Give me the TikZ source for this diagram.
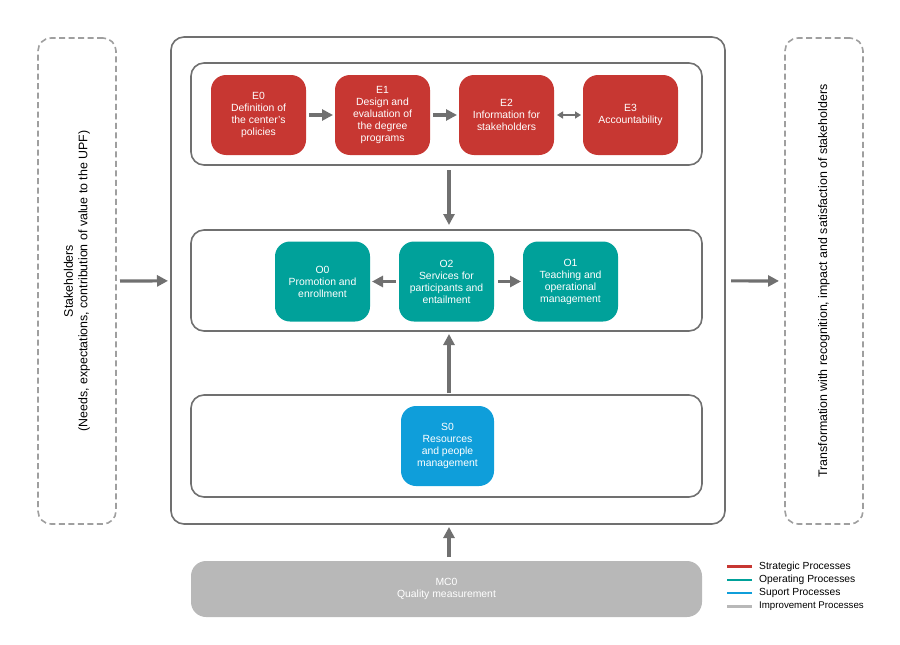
\documentclass[tikz,border=0pt]{standalone}
\usepackage{fontspec}
\setmainfont{Liberation Sans}
\usetikzlibrary{arrows.meta,positioning}

\definecolor{stratred}{HTML}{C73732}
\definecolor{operteal}{HTML}{00A19A}
\definecolor{suppblue}{HTML}{0F9EDA}
\definecolor{imprgrey}{HTML}{B8B8B8}
\definecolor{linegrey}{HTML}{707070}

\begin{document}
\begin{tikzpicture}[
    x=1pt, y=-1pt,
    frame/.style={rectangle, draw=linegrey, line width=1.6pt, rounded corners=13pt, inner sep=0pt, outer sep=0pt},
    dashframe/.style={frame, draw=gray!75, dash pattern=on 6pt off 3.5pt},
    proc/.style={rectangle, rounded corners=15pt, align=center, text=white, minimum width=95pt, minimum height=80pt, inner sep=1pt, outer sep=0pt, font=\fontsize{10.4}{12}\selectfont},
    sidetext/.style={rotate=90, align=center, font=\fontsize{12.4}{14.5}\selectfont},
    arrow/.style={-{Triangle[length=11pt,width=11pt]}, line width=3.2pt, draw=linegrey},
    dblarrow/.style={{Triangle[length=6pt,width=7pt]}-{Triangle[length=6pt,width=7pt]}, line width=2.2pt, draw=linegrey},
    legend/.style={anchor=west, inner sep=0pt, font=\fontsize{10.3}{12}\selectfont}
]
\useasboundingbox (0,0) rectangle (900,645);

% outer boxes
\node[dashframe, minimum width=78pt, minimum height=486pt] (stake) at (77,281) {};
\node[sidetext] at (stake) {Stakeholders\\(Needs, expectations, contribution of value to the UPF)};
\node[frame, minimum width=554pt, minimum height=487pt] (main) at (448,280.5) {};
\node[dashframe, minimum width=78pt, minimum height=486pt] (transf) at (824,281) {};
\node[sidetext] at (transf) {Transformation with recognition, impact and satisfaction of stakeholders};

% process groups
\node[frame, minimum width=511pt, minimum height=102pt] (strat) at (446.5,114) {};
\node[frame, minimum width=511pt, minimum height=101pt] (oper) at (446.5,280.5) {};
\node[frame, minimum width=511pt, minimum height=102pt] (supp) at (446.5,446) {};

% strategic
\node[proc, fill=stratred] (e0) at (258.5,115) {E0\\Definition of\\the center's\\policies};
\node[proc, fill=stratred, right=29pt of e0] (e1) {E1\\Design and\\evaluation of\\the degree\\programs};
\node[proc, fill=stratred, right=29pt of e1] (e2) {E2\\Information for\\stakeholders};
\node[proc, fill=stratred, right=29pt of e2] (e3) {E3\\Accountability};

% operating
\node[proc, fill=operteal] (o2) at (446.5,281.5) {O2\\Services for\\participants and\\entailment};
\node[proc, fill=operteal, left=29pt of o2] (o0) {O0\\Promotion and\\enrollment};
\node[proc, fill=operteal, right=29pt of o2] (o1) {O1\\Teaching and\\operational\\management};

% support
\node[proc, fill=suppblue, minimum width=93pt] (s0) at (447.5,446) {S0\\Resources\\and people\\management};

% improvement
\node[proc, fill=imprgrey, minimum width=511pt, minimum height=56pt] (mc0) at (446.5,589) {MC0\\Quality measurement};

\draw[arrow, shorten <=3pt, shorten >=2pt] (e0) -- (e1);
\draw[arrow, shorten <=3pt, shorten >=2pt] (e1) -- (e2);
\draw[dblarrow, shorten <=3pt, shorten >=2pt] (e2) -- (e3);
\draw[arrow, shorten <=5pt, shorten >=5pt] ([xshift=2.5pt]strat.south) -- ([xshift=2.5pt]oper.north);
\draw[arrow, shorten <=3pt, shorten >=2pt] (o2) -- (o0);
\draw[arrow, shorten <=4pt, shorten >=2pt] (o2) -- (o1);
\draw[arrow, shorten <=2pt, shorten >=3pt] ([xshift=2.5pt]supp.north) -- ([xshift=2.5pt]oper.south);
\draw[arrow, shorten <=4pt, shorten >=3pt] ([xshift=2.5pt]mc0.north) -- ([xshift=1pt]main.south);
\draw[arrow, shorten <=4pt, shorten >=3pt] (stake) -- (main);
\draw[arrow, shorten <=6pt, shorten >=6pt] (main) -- (transf);

% legend
\node[legend] (lg1) at (759,566.5) {Strategic Processes};
\node[legend] (lg2) at (759,580) {Operating Processes};
\node[legend] (lg3) at (759,593) {Suport Processes};
\node[legend, font=\fontsize{9.7}{11}\selectfont] (lg4) at (759,606.5) {Improvement Processes};
\draw[stratred, line width=2.6pt] ([xshift=-7pt]lg1.west) -- ++(-25,0);
\draw[operteal, line width=2.6pt] ([xshift=-7pt]lg2.west) -- ++(-25,0);
\draw[suppblue, line width=2.6pt] ([xshift=-7pt]lg3.west) -- ++(-25,0);
\draw[imprgrey, line width=2.6pt] ([xshift=-7pt]lg4.west) -- ++(-25,0);
\end{tikzpicture}
\end{document}
